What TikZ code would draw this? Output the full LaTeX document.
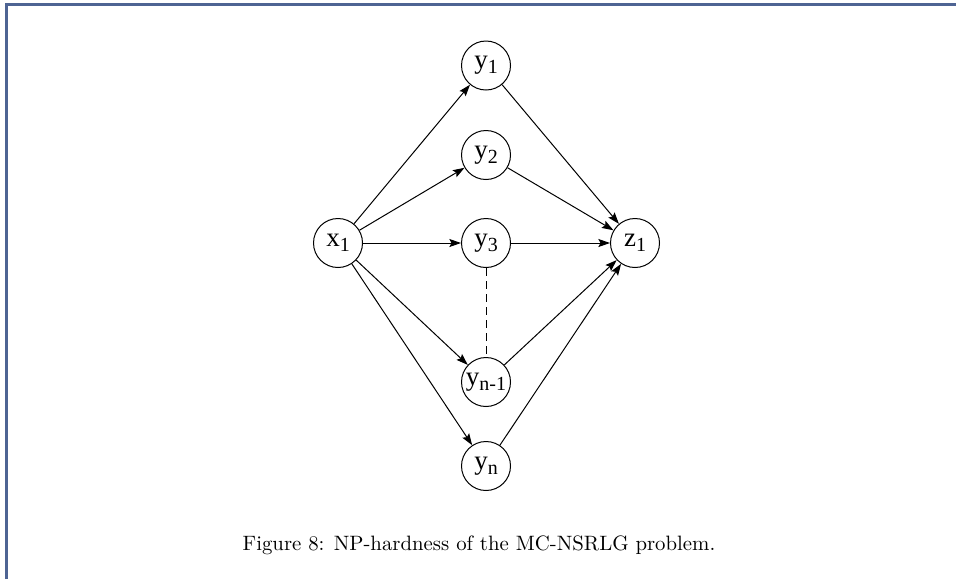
\documentclass[tikz,border=0pt]{standalone}
\usepackage{fontspec}
\newfontfamily\timesf{Liberation Serif}
\usetikzlibrary{arrows.meta}
\definecolor{frameblue}{HTML}{4E6493}
\newcommand{\lab}[2]{{\timesf\fontsize{13.5}{13.5}\selectfont #1\raisebox{-2.5pt}{\fontsize{10}{10}\selectfont #2}}}
\begin{document}
\begin{tikzpicture}[x=0.5pt,y=-0.5pt,
  vert/.style={circle,draw,line width=0.5pt,minimum size=24.5pt,inner sep=0pt},
  arr/.style={-{Stealth[length=5.8pt,width=4pt,inset=1pt]},line width=0.5pt}]
\useasboundingbox (0,0) rectangle (956,579);
\draw[frameblue,line width=1.2pt] (6.5,579) -- (6.5,4.5) -- (956,4.5);
\node[vert] (x1) at (338,243) {\lab{x}{1}};
\node[vert] (y1) at (486,65.5) {\lab{y}{1}};
\node[vert] (y2) at (486,155) {\lab{y}{2}};
\node[vert] (y3) at (486,243) {\lab{y}{3}};
\node[vert] (yn1) at (486,382) {\lab{y}{n-1}};
\node[vert] (yn) at (486,466) {\lab{y}{n}};
\node[vert] (z1) at (635,243) {\lab{z}{1}};
\foreach \t in {y1,y2,y3,yn1,yn} {
  \draw[arr] (x1) -- (\t);
  \draw[arr] (\t) -- (z1);
}
\draw[line width=0.5pt,dash pattern=on 4pt off 2.5pt] (y3) -- (yn1);
\node (cap) at (479,545) {\fontsize{10.4}{12}\selectfont Figure 8: NP-hardness of the MC-NSRLG problem.};
\end{tikzpicture}
\end{document}
